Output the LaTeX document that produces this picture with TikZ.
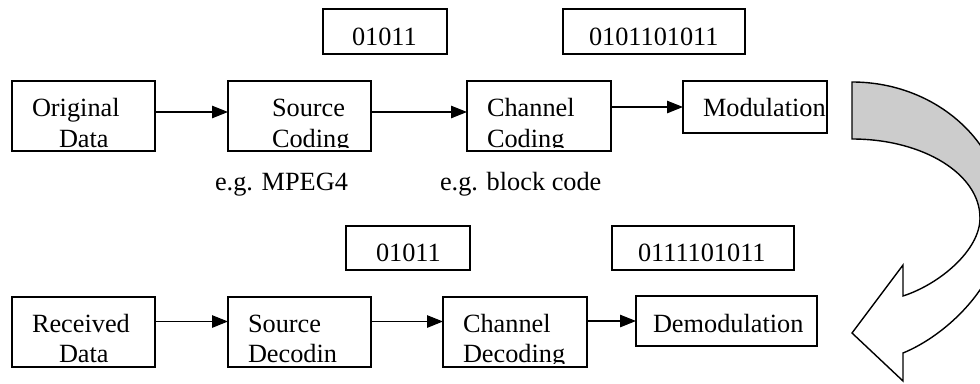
\documentclass[tikz,border=0pt]{standalone}
\usepackage{fontspec}
\setmainfont{Liberation Serif}
\usetikzlibrary{arrows.meta}
\definecolor{bandgray}{HTML}{CCCCCC}
\begin{document}
\begin{tikzpicture}[x=1pt,y=-1pt,
  box/.style={draw, line width=1.5pt, rectangle, inner sep=0pt, outer sep=0pt, anchor=north west},
  lbl/.style={inner sep=0pt, outer sep=0pt, anchor=base west, font=\fontsize{26.3}{30}\selectfont},
  flow/.style={line width=1.1pt, -{Triangle[length=16pt,width=12.5pt]}},
  bandline/.style={line width=1.4pt, line join=miter},
]
\useasboundingbox (0,0) rectangle (980,383);

% ---------- transmitter chain ----------
\node[box, minimum width=143, minimum height=70] (orig) at (12,81) {};
\node[box, minimum width=143, minimum height=70] (src)  at (228,81) {};
\node[box, minimum width=144, minimum height=70] (chan) at (467,81) {};
\node[box, minimum width=144, minimum height=52] (mod)  at (683,81) {};

\begin{scope}
  \clip (orig.north west) rectangle ([yshift=4pt]orig.south east);
  \node[lbl] (origA) at (32,116) {Original};
  \node[lbl] (origB) at (59,147) {Data};
\end{scope}
\begin{scope}
  \clip (src.north west) rectangle ([yshift=4pt]src.south east);
  \node[lbl] (srcA) at (272,116) {Source};
  \node[lbl] (srcB) at (272,147) {Coding};
\end{scope}
\begin{scope}
  \clip (chan.north west) rectangle ([yshift=4pt]chan.south east);
  \node[lbl] (chanA) at (487,116) {Channel};
  \node[lbl] (chanB) at (487,147) {Coding};
\end{scope}
\node[lbl] (modA) at (703,116) {Modulation};

\draw[flow] ([yshift=4pt]orig.east) -- ([yshift=4pt]src.west);
\draw[flow] ([yshift=4pt]src.east) -- ([yshift=4pt]chan.west);
\draw[flow] (chan.east |- mod.west) -- (mod.west);

% bit strings and examples
\node[box, minimum width=124, minimum height=45] (bitsA) at (323,9) {};
\node[lbl] at (352,45.5) {01011};
\node[box, minimum width=182, minimum height=45] (bitsB) at (563,9) {};
\node[lbl] at (589,45.5) {0101101011};
\node[lbl] (exA) at (215,190) {e.g. MPEG4};
\node[lbl] (exB) at (440,190) {e.g. block code};

% ---------- receiver chain ----------
\node[box, minimum width=143, minimum height=70] (recv) at (12,297) {};
\node[box, minimum width=143, minimum height=70] (sdec) at (228,297) {};
\node[box, minimum width=144, minimum height=70] (cdec) at (443,297) {};
\node[box, minimum width=181, minimum height=50] (demod) at (636,296) {};

\begin{scope}
  \clip (recv.north west) rectangle ([yshift=4pt]recv.south east);
  \node[lbl] (recvA) at (32,332) {Received};
  \node[lbl] (recvB) at (59,362) {Data};
\end{scope}
\begin{scope}
  \clip (sdec.north west) rectangle ([yshift=4pt]sdec.south east);
  \node[lbl] (sdecA) at (248,332) {Source};
  \node[lbl] (sdecB) at (248,362) {Decodin};
\end{scope}
\begin{scope}
  \clip (cdec.north west) rectangle ([yshift=4pt]cdec.south east);
  \node[lbl] (cdecA) at (463,332) {Channel};
  \node[lbl] (cdecB) at (463,362) {Decoding};
\end{scope}
\node[lbl] (demodA) at (653,332) {Demodulation};

\draw[flow] ([yshift=10.5pt]recv.east) -- ([yshift=10.5pt]sdec.west);
\draw[flow] ([yshift=10.5pt]sdec.east) -- ([yshift=10.5pt]cdec.west);
\draw[flow] (cdec.east |- demod.west) -- (demod.west);

\node[box, minimum width=124, minimum height=44] (bitsC) at (346,226) {};
\node[lbl] at (376,261.5) {01011};
\node[box, minimum width=182, minimum height=44] (bitsD) at (612,226) {};
\node[lbl] at (638,261.5) {0111101011};

% ---------- curved channel arrow ----------
\begin{scope}
  \clip (0,0) rectangle (980,383);
  \draw[bandline, fill=bandgray]
    (852,82) .. controls (936,82) and (1004,143) .. (1004,218)
    -- (980,218) .. controls (980,174) and (923,139) .. (852,139) -- cycle;
  \draw[bandline, fill=white]
    (1004,218) .. controls (1004,284) and (945,336) .. (903,353)
    -- (903,381) -- (852,333) -- (903,265) -- (903,296)
    .. controls (940,284) and (980,250) .. (980,218) -- cycle;
\end{scope}
\end{tikzpicture}
\end{document}
